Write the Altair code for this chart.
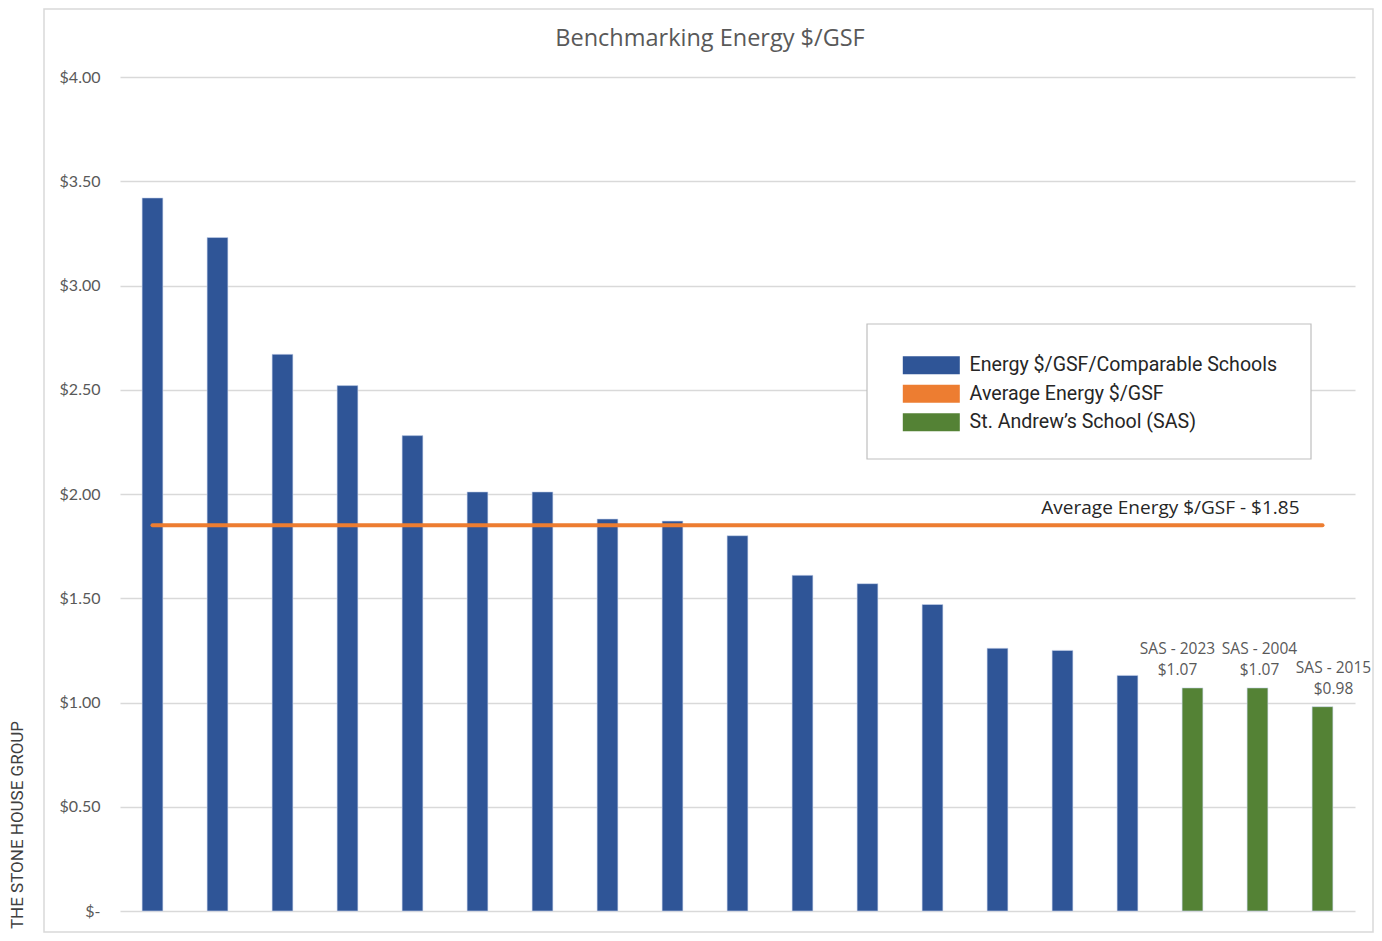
import altair as alt
import pandas as pd

# ---- data ----
schools = [f"School {i}" for i in range(1, 17)] + ["SAS - 2023", "SAS - 2004", "SAS - 2015"]
values = [3.42, 3.23, 2.67, 2.52, 2.28, 2.01, 2.01, 1.88, 1.87, 1.80,
          1.61, 1.57, 1.47, 1.26, 1.25, 1.13, 1.07, 1.07, 0.98]
groups = ["Energy $/GSF/Comparable Schools"] * 16 + ["St. Andrew’s School (SAS)"] * 3
average_value = 1.85
series_names = ["Energy $/GSF/Comparable Schools", "Average Energy $/GSF", "St. Andrew’s School (SAS)"]
series_colors = ["#2F5597", "#ED7D31", "#548235"]
y_ticks = [0, 0.5, 1.0, 1.5, 2.0, 2.5, 3.0, 3.5, 4.0]
chart_title = "Benchmarking Energy $/GSF"
brand_text = "THE STONE HOUSE GROUP"

df = pd.DataFrame({"school": schools, "value": values, "group": groups})
df["label"] = df.apply(lambda r: f"{r['school']}\n${r['value']:.2f}", axis=1)
avg_df = pd.DataFrame({"x1": [schools[0]], "x2": [schools[-1]], "avg": [average_value],
                       "label": [f"Average Energy $/GSF - ${average_value:.2f}"]})

W, H = 1235, 834
xscale = alt.Scale(domain=schools, paddingInner=0.68, paddingOuter=0.34)
yscale = alt.Scale(domain=[0, 4])

bars = alt.Chart(df).mark_bar(stroke="#c9d5ec", strokeWidth=0.6).encode(
    x=alt.X("school:N", scale=xscale, axis=None, sort=schools),
    y=alt.Y("value:Q", scale=yscale,
            axis=alt.Axis(values=y_ticks, title=None, grid=True, gridColor="#d9d9d9", gridWidth=1.5,
                          domain=False, ticks=False, labelPadding=20, labelFont="Lato",
                          labelFontSize=16, labelColor="#595959",
                          labelExpr="datum.value == 0 ? '$-' : '$' + format(datum.value, '.2f')")),
    color=alt.Color("group:N", scale=alt.Scale(domain=series_names, range=series_colors),
                    legend=alt.Legend(title=None, orient="none", legendX=801.5, legendY=278.5,
                                      padding=0, strokeColor="transparent",
                                      symbolType="M-3.167,-1L3.167,-1L3.167,1L-3.167,1Z",
                                      symbolSize=324, symbolStrokeWidth=0, symbolOpacity=1,
                                      labelFont="Roboto", labelFontSize=19.6, labelColor="#262626",
                                      labelOffset=28.5, rowPadding=7.5, labelLimit=400)),
)

legend_box = alt.Chart(avg_df).mark_rect(fill="white", stroke="#bfbfbf", strokeWidth=1.2).encode(
    x=alt.value(747), x2=alt.value(1191), y=alt.value(247), y2=alt.value(382))

avg_rule = alt.Chart(avg_df).mark_rule(color="#ED7D31", strokeWidth=4, strokeCap="round").encode(
    x=alt.X("x1:N", scale=xscale, bandPosition=0.5, sort=schools),
    x2=alt.X2("x2:N"),
    y=alt.Y("avg:Q", scale=yscale),
)

avg_text = alt.Chart(avg_df).mark_text(align="right", baseline="bottom", dy=-7, dx=-23,
                                       font="Open Sans", fontSize=19, color="#262626").encode(
    x=alt.X("x2:N", scale=xscale, bandPosition=0.5, sort=schools),
    y=alt.Y("avg:Q", scale=yscale),
    text="label:N",
)

label_nudge = {"SAS - 2023": -15, "SAS - 2004": 2, "SAS - 2015": 11}
sas_labels = []
for name, nudge in label_nudge.items():
    sas_labels.append(
        alt.Chart(df).transform_filter(alt.datum.school == name)
        .mark_text(baseline="bottom", dy=-31, dx=nudge, lineBreak="\n", lineHeight=21,
                   font="Open Sans", fontSize=15.5, color="#595959")
        .encode(x=alt.X("school:N", scale=xscale, bandPosition=0.5, sort=schools),
                y=alt.Y("value:Q", scale=yscale),
                text="label:N")
    )

frame = alt.Chart(avg_df).mark_rect(fill="white", fillOpacity=0, stroke="#d9d9d9", strokeWidth=1.5).encode(
    x=alt.value(-76), x2=alt.value(1253), y=alt.value(-68), y2=alt.value(855))

title = alt.Chart(avg_df).mark_text(align="center", baseline="middle", font="Open Sans",
                                    fontSize=23.5, color="#595959").encode(
    x=alt.value(590), y=alt.value(-38), text=alt.value(chart_title))

brand = alt.Chart(avg_df).mark_text(angle=270, align="center", baseline="middle", font="Roboto",
                                    fontSize=17, color="#404040").encode(
    x=alt.value(-102), y=alt.value(748), text=alt.value(brand_text))

chart = alt.layer(frame, bars, avg_rule, avg_text, *sas_labels, legend_box, title, brand).properties(
    width=W, height=H,
    autosize=alt.AutoSizeParams(type="none"),
    padding={"left": 112, "top": 69, "right": 19, "bottom": 22},
).configure_view(stroke=None)

chart.save("out.html", embed_options={"renderer": "svg", "actions": False})
